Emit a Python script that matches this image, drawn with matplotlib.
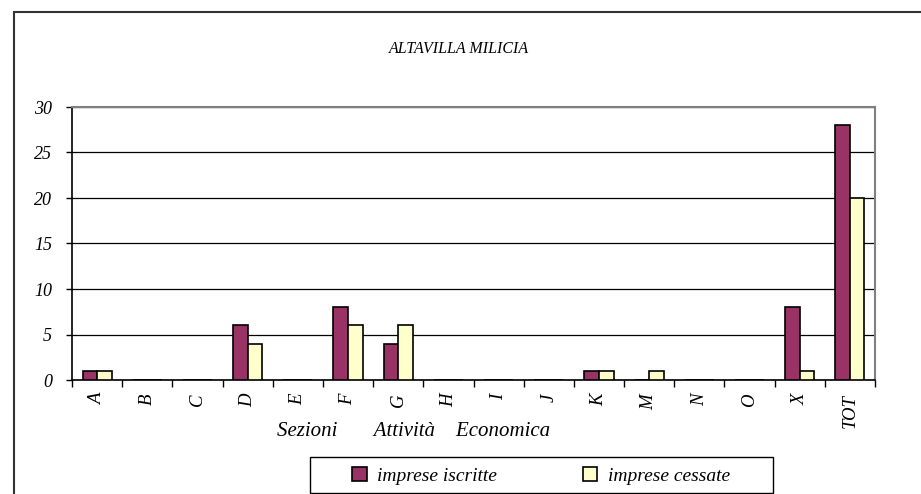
import numpy as np
import matplotlib.pyplot as plt
from matplotlib.patches import Rectangle

# data
sezioni = ["A", "B", "C", "D", "E", "F", "G", "H", "I", "J", "K", "M", "N", "O", "X", "TOT"]
iscritte = [1, 0, 0, 6, 0, 8, 4, 0, 0, 0, 1, 0, 0, 0, 8, 28]
cessate = [1, 0, 0, 4, 0, 6, 6, 0, 0, 0, 1, 1, 0, 0, 1, 20]
titolo = "ALTAVILLA MILICIA"

plt.rcParams['font.family'] = ['Liberation Serif', 'DejaVu Serif']
plt.rcParams['font.style'] = 'italic'

W, H = 921, 494
fig = plt.figure(figsize=(W / 100, H / 100), dpi=100)
ax = fig.add_axes([72 / W, 1 - 380 / H, (875 - 72) / W, (380 - 107) / H])

x = np.arange(len(sezioni))
bw = 0.29
b1 = ax.bar(x - bw / 2, iscritte, bw, color='#993366', edgecolor='black', linewidth=1.2,
            label='imprese iscritte', zorder=3)
b2 = ax.bar(x + bw / 2, cessate, bw, color='#FFFFCC', edgecolor='black', linewidth=1.2,
            label='imprese cessate', zorder=3)

ax.set_xlim(-0.5, len(sezioni) - 0.5)
ax.set_ylim(0, 30)
ax.set_yticks(range(0, 31, 5))
ax.yaxis.grid(True, color='black', linewidth=0.9)
ax.set_axisbelow(True)

ax.set_xticks(x)
ax.set_xticklabels(sezioni, rotation=90, fontsize=13.5, style='italic')
ax.set_xticks(np.arange(-0.5, len(sezioni)), minor=True)
ax.tick_params(axis='x', which='major', length=0, pad=10)
ax.tick_params(axis='x', which='minor', length=5, width=1, direction='out')
ax.tick_params(axis='y', length=4.5, width=1, pad=10, labelsize=13)
for t in ax.get_yticklabels():
    t.set_style('italic')

for s in ['left', 'bottom']:
    ax.spines[s].set_color('black')
    ax.spines[s].set_linewidth(1.2)
for s in ['top', 'right']:
    ax.spines[s].set_color('#808080')
    ax.spines[s].set_linewidth(1.5)

fig.text(459 / W, 1 - 49 / H, titolo, ha='center', va='center', fontsize=11.5, style='italic')
fig.text(414 / W, 1 - 431 / H, "Sezioni       Attività    Economica", ha='center', va='center',
         fontsize=15, style='italic')

leg = fig.legend(handles=[b1, b2], ncol=2, loc='center',
                 bbox_to_anchor=(541 / W, 1 - 476 / H),
                 frameon=False, fontsize=14,
                 handlelength=0.75, handleheight=0.75, borderaxespad=0, borderpad=0,
                 handletextpad=0.55, columnspacing=4.4)
for t in leg.get_texts():
    t.set_style('italic')

# legend box
fig.patches.append(Rectangle((310 / W, 1 - 493 / H), 463 / W, 36 / H, transform=fig.transFigure,
                             fill=False, edgecolor='black', linewidth=1.0))
# outer chart frame
fig.patches.append(Rectangle((14 / W, -0.1), 1.2, 1 - 12 / H + 0.1, transform=fig.transFigure,
                             fill=False, edgecolor='#333333', linewidth=1.5, zorder=0))

fig.savefig("out.png", dpi=100)
